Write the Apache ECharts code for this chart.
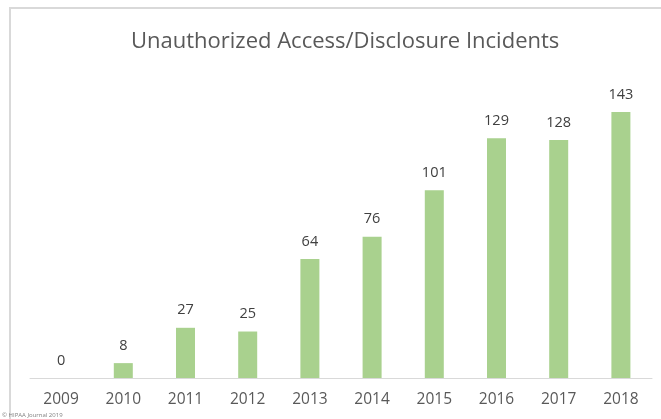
<!DOCTYPE html>
<html><head><meta charset="utf-8">
<script src="https://cdn.jsdelivr.net/npm/echarts@6/dist/echarts.min.js"></script>
<style>html,body{margin:0;padding:0;background:#fff}#c{width:661px;height:419px}</style>
</head><body><div id="c"></div>
<script>
const years = ['2009','2010','2011','2012','2013','2014','2015','2016','2017','2018'];
const incidents = [0, 8, 27, 25, 64, 76, 101, 129, 128, 143];
const titleText = 'Unauthorized Access/Disclosure Incidents';
const sourceText = '© HIPAA Journal 2019';
const font = '"Open Sans", "Noto Sans", sans-serif';
const chart = echarts.init(document.getElementById('c'));
chart.setOption({
  animation: false,
  backgroundColor: '#fff',
  title: { text: titleText, left: 126, top: 26,
    textStyle: { fontFamily: font, fontSize: 22, fontWeight: 'normal', color: '#595959' } },
  graphic: [
    { type: 'rect', shape: { x: 10, y: 8, width: 700, height: 500 }, style: { fill: 'none', stroke: '#d9d9d9', lineWidth: 2 } },
    { type: 'text', left: 2, top: 412, style: { text: sourceText, fontSize: 6, fill: '#808080', fontFamily: font } }
  ],
  grid: { left: 30, right: 9, top: 80.5, bottom: 41 },
  xAxis: { type: 'category', data: years,
    axisLine: { lineStyle: { color: '#d9d9d9', width: 1 } },
    axisTick: { show: false },
    axisLabel: { color: '#595959', fontSize: 15.5, fontFamily: font, margin: 14 } },
  yAxis: { type: 'value', min: 0, max: 160, show: false, splitLine: { show: false } },
  series: [{ type: 'bar', data: incidents, barWidth: 19,
    itemStyle: { color: '#a9d18e' },
    label: { show: true, position: 'top', distance: 10, color: '#404040', fontSize: 14.5, fontFamily: font } }]
});
</script></body></html>
